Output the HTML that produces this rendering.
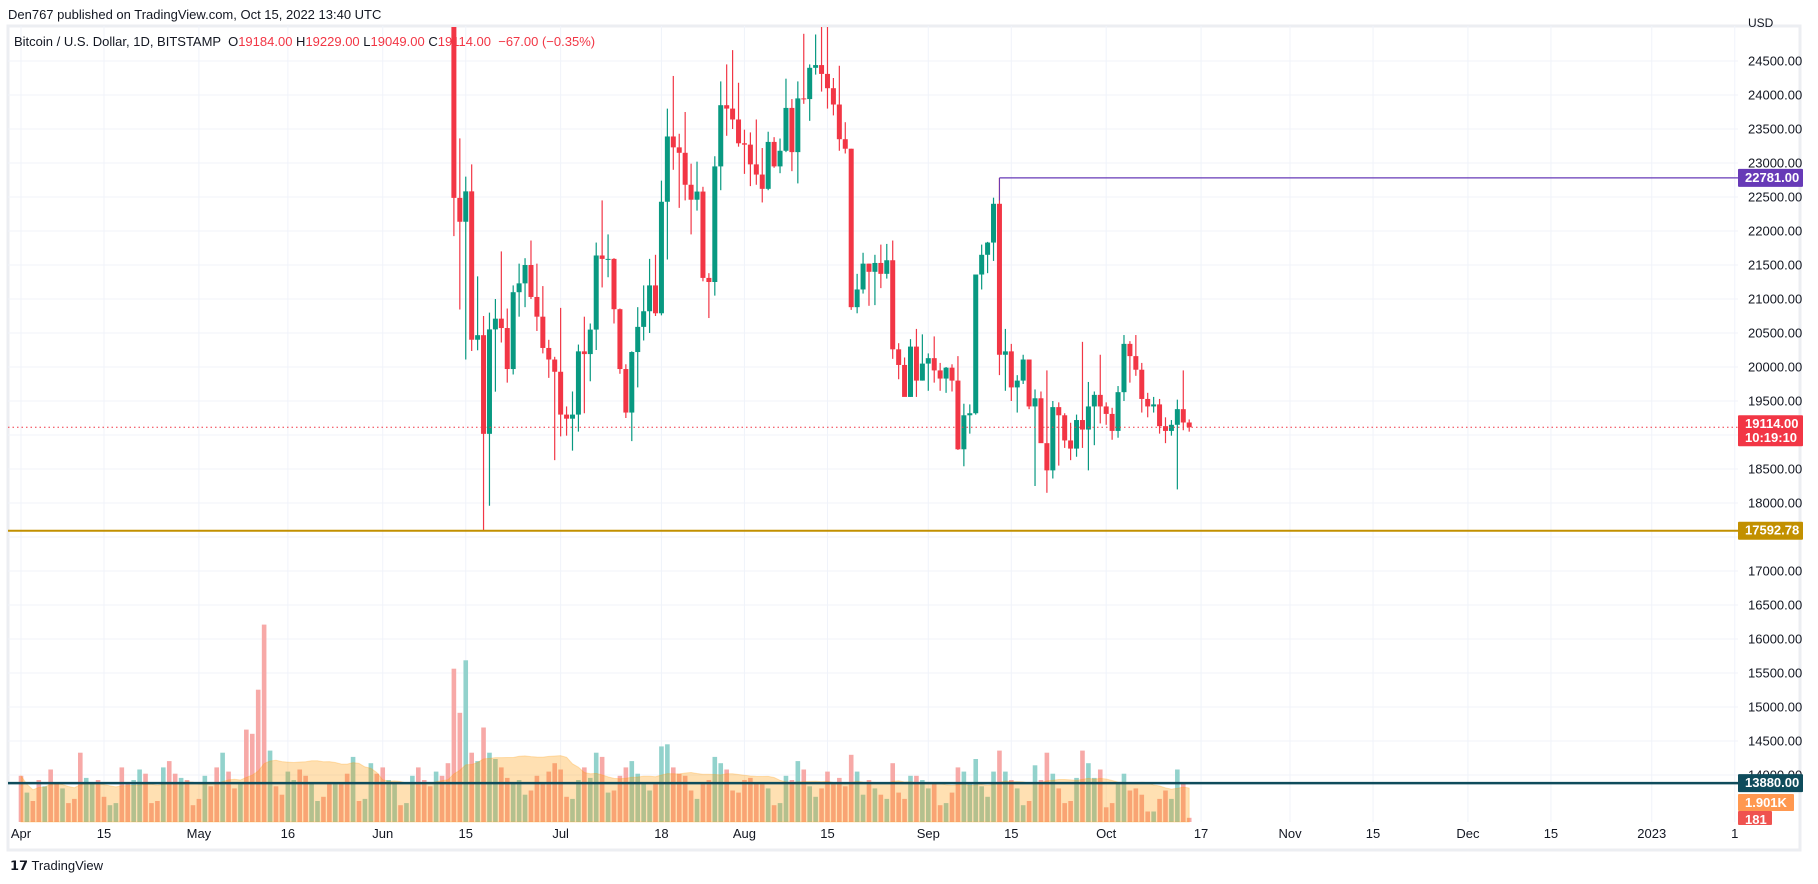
<!DOCTYPE html>
<html><head><meta charset="utf-8"><style>
html,body{margin:0;padding:0;background:#fff;width:1818px;height:884px;overflow:hidden;font-family:"Liberation Sans",sans-serif}
svg text{font-family:"Liberation Sans",sans-serif}
</style></head><body>
<svg id="c" width="1818" height="884" xmlns="http://www.w3.org/2000/svg"></svg>
<script>
// ---- data ----
const startDate = "2022-04-01";
const priceTicks = [24500,24000,23500,23000,22500,22000,21500,21000,20500,20000,19500,19000,18500,18000,17500,17000,16500,16000,15500,15000,14500,14000];
const xTickLabels = ["Apr","15","May","16","Jun","15","Jul","18","Aug","15","Sep","15","Oct","17","Nov","15","Dec","15","2023","1"];
const xTickDays = [0,14,30,45,61,75,91,108,122,136,153,167,183,199,214,228,244,258,275,289];
const ohlcStartDay = 73; // Jun 13
const opens = [26574,22487,22136,22583,20401,20468,19017,20553,20711,20573,19970,21100,21230,21500,21030,20740,20280,20110,19930,19300,19240,19300,20230,20190,20550,21640,21590,21590,20850,19970,19330,20220,20590,20820,21200,20790,22430,23390,23230,23150,22680,22460,22580,21310,21250,22950,23850,23800,23640,23290,23270,22980,22830,22620,23310,22950,23180,23810,23160,23950,23940,24400,24440,24310,24100,23860,23350,23210,20880,21140,21520,21400,21530,21370,21570,20260,20030,19560,20300,19800,20050,20130,19950,19830,19990,19800,18790,19290,19320,21360,21650,21830,22400,20180,20230,19700,19800,20110,19420,19540,18880,18480,19410,19290,18920,18800,19220,19080,19420,19590,19420,19310,19060,19630,20340,20160,19960,19530,19420,19450,19130,19060,19150,19380,19184];
const highs = [26883,23362,22800,22980,21333,20750,20800,21000,21700,20860,21200,21520,21600,21860,21520,21190,20400,20150,20870,19420,19640,20330,20740,20640,21830,22450,21950,21600,20860,20040,20230,20880,21200,21590,21650,22740,23800,24280,23430,23750,22990,23020,22650,21380,23100,24200,24450,24660,24180,23490,23450,23640,23220,23460,23380,23360,24240,23940,24200,24900,24450,24890,25050,25200,24250,24430,23600,23210,21370,21680,21520,21650,21800,21810,21860,20350,20140,20410,20560,20480,20200,20450,20060,20000,20040,20160,19460,19450,21220,21800,21840,22490,22781,20560,20340,19880,20180,20110,19670,19640,19950,19500,19480,19320,19180,19300,20370,19780,19640,20180,19480,19400,19720,20470,20380,20470,20060,19620,19560,19530,19260,19220,19520,19950,19229];
const lows = [21925,20846,20111,20236,20246,17592,17960,19637,20360,19770,19890,20740,20880,21000,20530,20200,19840,18630,18980,18990,18770,19050,19320,19790,20250,21170,21320,20640,19900,19250,18910,19700,20390,20500,20750,20760,21580,22900,22340,22450,21950,22300,21260,20720,21050,22600,23400,23500,23240,22840,22660,22680,22420,22600,22930,22850,23160,22880,22700,23870,23620,24300,24050,23800,23700,23180,23140,20840,20790,21080,20900,20910,21160,21300,20120,19820,19600,19560,19560,19800,19650,19770,19650,19620,19640,18780,18540,19020,19300,21140,21380,21560,19880,19650,19500,19330,19750,19380,18250,18900,18150,18360,18550,18810,18630,18680,18810,18480,18850,19170,19150,18930,18960,19500,19770,19870,19330,19260,19330,19020,18880,18990,18200,19070,19049];
const closes = [22487,22136,22583,20401,20468,19017,20553,20711,20573,19970,21100,21230,21500,21030,20740,20280,20110,19930,19300,19240,19300,20230,20190,20550,21640,21590,21590,20850,19970,19330,20220,20590,20820,21200,20790,22430,23390,23230,23150,22680,22460,22580,21310,21250,22950,23850,23800,23640,23290,23270,22980,22830,22620,23310,22950,23180,23810,23160,23950,23940,24400,24440,24310,24100,23860,23350,23210,20880,21140,21520,21400,21530,21370,21570,20260,20030,19560,20300,19800,20050,20130,19950,19830,19990,19800,18790,19290,19320,21360,21650,21830,22400,20180,20230,19700,19800,20110,19420,19540,18880,18480,19410,19290,18920,18800,19220,19080,19420,19590,19420,19310,19060,19630,20340,20160,19960,19530,19420,19450,19130,19060,19150,19380,19184,19114];
const volumes = [2.2,1.4,1.0,2.0,1.7,2.5,1.9,1.6,0.9,1.1,3.3,2.1,1.8,2.0,1.2,0.8,0.9,2.6,1.9,2.0,2.5,2.3,0.9,1.0,2.6,2.9,2.3,2.1,2.0,0.8,
1.1,2.2,1.7,2.6,3.3,2.4,1.6,1.8,4.4,4.2,6.3,9.4,3.4,1.7,1.3,2.4,2.0,2.5,2.2,1.9,1.0,1.2,1.9,1.8,1.8,2.3,3.1,1.0,1.1,2.8,2.3,
2.6,2.0,1.9,0.8,0.9,2.2,2.6,2.0,1.7,2.4,2.2,2.8,7.3,5.2,7.7,3.3,2.9,4.5,3.3,3.0,2.6,2.1,1.9,2.0,1.3,1.5,2.2,1.9,2.4,2.8,
2.5,1.2,1.1,2.0,2.6,2.1,3.3,3.1,1.4,1.5,2.2,2.6,2.9,2.3,1.9,1.5,1.8,3.6,3.7,2.6,2.3,2.2,1.5,1.1,1.9,2.0,3.1,2.8,2.5,1.5,1.4,
2.0,2.1,1.9,1.8,1.6,0.8,0.9,2.2,2.0,2.9,2.5,1.7,1.2,1.6,2.4,1.8,2.1,1.7,3.2,2.4,1.3,2.0,1.6,1.3,1.1,2.8,1.4,1.1,2.2,2.2,2.0,
1.6,1.8,0.8,0.9,1.4,2.6,2.4,1.8,3.0,1.7,1.2,2.4,3.4,2.4,2.0,1.6,0.8,1.0,2.7,2.0,3.3,2.3,1.6,0.9,1.0,2.1,3.4,2.8,2.1,2.5,
0.7,0.9,1.9,2.3,1.5,1.6,1.3,0.5,0.5,1.1,1.5,1.1,2.5,1.9,0.2];
const earlyDirs = "duddudduddduudduudduudddudduddduddudduddddudduudduuddudduduudduuduudddud";
const hLevels = [22781, 17592.78, 13880];
const lastPrice = 19114;

// ---- scales ----
const NS="http://www.w3.org/2000/svg";
const svg=document.getElementById('c');
const PL=8, PR=1738, PT=26, PB=850;
const xDay=d=>21+d*5.93;
const yP=p=>61+(24500-p)/500*34.0;
const VBASE=822, VK=21;
const yV=v=>VBASE-v*VK;
function mk(tag,attrs,parent){const e=document.createElementNS(NS,tag);for(const k in attrs)e.setAttribute(k,attrs[k]);(parent||svg).appendChild(e);return e;}

// frame
const bg=mk('rect',{x:PL,y:PT,width:1800-PL,height:PB-PT,fill:'#fff',stroke:'#eceef2','stroke-width':3});



// grid
priceTicks.forEach(p=>{const l=mk('line',{x1:PL,x2:PR,y1:yP(p),y2:yP(p),stroke:'#f0f3fa','stroke-width':1});

});
xTickDays.forEach(d=>{const l=mk('line',{x1:xDay(d),x2:xDay(d),y1:PT,y2:822,stroke:'#f0f3fa','stroke-width':1});

});

// clip
const defs=mk('defs',{});const cp=mk('clipPath',{id:'pc'},defs);mk('rect',{x:PL,y:PT+1,width:PR-PL,height:PB-PT},cp);
const g=mk('g',{'clip-path':'url(#pc)'});



// volume
function dirAt(d){if(d<ohlcStartDay)return earlyDirs[d]==='u';const i=d-ohlcStartDay;return closes[i]>=opens[i];}
volumes.forEach((v,d)=>{const up=dirAt(d);const r=mk('rect',{x:xDay(d)-2.3,y:yV(v),width:4.6,height:v*VK,fill:up?'#92d2cc':'#f7a9a7'},g);

});
// volume MA
let pts=[];volumes.forEach((v,d)=>{const s=volumes.slice(Math.max(0,d-19),d+1);const m=s.reduce((a,b)=>a+b,0)/s.length;pts.push([xDay(d),yV(m)]);});
let dStr='M'+xDay(0)+','+VBASE+' '+pts.map(p=>'L'+p[0].toFixed(1)+','+p[1].toFixed(1)).join(' ')+' L'+xDay(volumes.length-1)+','+VBASE+'Z';
const ma=mk('path',{d:dStr,fill:'rgba(255,152,0,0.3)',stroke:'rgba(255,152,0,0.25)','stroke-width':1},g);



// candles
opens.forEach((o,i)=>{const d=ohlcStartDay+i,x=xDay(d),c=closes[i],up=c>=o,col=up?'#089981':'#f23645';
const w=mk('line',{x1:x,x2:x,y1:yP(highs[i]),y2:yP(lows[i]),stroke:col,'stroke-width':1.2},g);


const t=Math.min(yP(o),yP(c)),h=Math.max(1,Math.abs(yP(o)-yP(c)));
const b=mk('rect',{x:x-2.5,y:t,width:5,height:h,fill:col},g);

});

// lines
const lp=mk('line',{x1:PL,x2:PR,y1:yP(lastPrice),y2:yP(lastPrice),stroke:'#f23645','stroke-width':1,'stroke-dasharray':'1.5,3'});


const l1=mk('line',{x1:xDay(ohlcStartDay+92),x2:PR,y1:yP(hLevels[0]),y2:yP(hLevels[0]),stroke:'#673ab7','stroke-width':1.2});


mk('line',{x1:xDay(ohlcStartDay+92),x2:xDay(ohlcStartDay+92),y1:yP(hLevels[0]),y2:yP(22450),stroke:'#673ab7','stroke-width':1});
const l2=mk('line',{x1:PL,x2:PR,y1:yP(hLevels[1]),y2:yP(hLevels[1]),stroke:'#c29000','stroke-width':2});


const l3=mk('line',{x1:PL,x2:PR,y1:yP(hLevels[2]),y2:yP(hLevels[2]),stroke:'#0f4c5c','stroke-width':2.5});



// price axis
priceTicks.forEach(p=>{if(p===19000||p===17500)return;const t=mk('text',{x:1748,y:yP(p)+4.5,'font-size':13,fill:'#131722'});t.textContent=p.toFixed(2);

});
const usd=mk('text',{x:1748,y:27,'font-size':12,fill:'#131722'});usd.textContent='USD';


function tag(y,h,w,fill,lines,name){const r=mk('rect',{x:1738,y:y,width:w,height:h,fill:fill,rx:1});


lines.forEach((s,i)=>{const t=mk('text',{x:1745,y:y+13+i*14,'font-size':13,fill:'#fff','font-weight':'bold'});t.textContent=s;});}
tag(yP(hLevels[0])-9,18,65,'#673ab7',[hLevels[0].toFixed(2)],'resistance-price-tag');
tag(yP(lastPrice)-12,31,65,'#f23645',[lastPrice.toFixed(2),'10:19:10'],'last-price-tag');
tag(yP(hLevels[1])-9,18,65,'#c29000',[hLevels[1].toFixed(2)],'support-price-tag');
tag(yP(hLevels[2])-9,18,65,'#0f4c5c',[hLevels[2].toFixed(2)],'level-price-tag');
tag(794,17,56,'#ff9850',['1.901K'],'volume-ma-tag');
tag(811,14,34,'#ef5350',['181'],'volume-tag');

// x axis
xTickLabels.forEach((s,i)=>{const t=mk('text',{x:xDay(xTickDays[i]),y:838,'font-size':13,fill:'#131722','text-anchor':'middle'});t.textContent=s;

});

// header/legend
const hd=mk('text',{x:8,y:19,'font-size':13,fill:'#131722'});hd.textContent='Den767 published on TradingView.com, Oct 15, 2022 13:40 UTC';


const lg=mk('text',{x:14,y:46,'font-size':13,fill:'#131722'});


[['Bitcoin / U.S. Dollar, 1D, BITSTAMP  O','#131722'],['19184.00','#f23645'],[' H','#131722'],['19229.00','#f23645'],[' L','#131722'],['19049.00','#f23645'],[' C','#131722'],['19114.00','#f23645'],['  −67.00 (−0.35%)','#f23645']].forEach(a=>{const s=mk('tspan',{fill:a[1]},lg);s.textContent=a[0];s.setAttribute('xml:space','preserve');});
lg.setAttribute('style','white-space:pre');
const lo=mk('text',{x:10,y:870,'font-size':13,fill:'#131722'});lo.textContent='𝟭𝟳 TradingView';


</script>
</body></html>
